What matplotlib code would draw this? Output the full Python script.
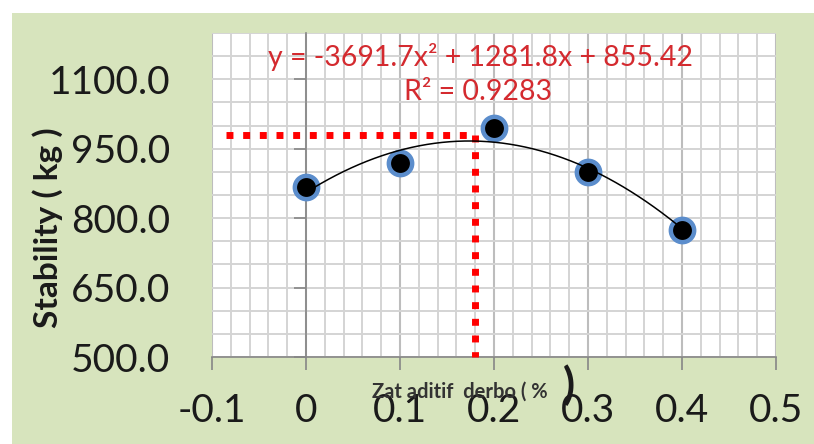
import numpy as np
import matplotlib
matplotlib.use("Agg")
import matplotlib.pyplot as plt
from matplotlib.patches import Rectangle

plt.rcParams['font.family'] = ['Lato', 'DejaVu Sans']

# data
additive = [0.0, 0.1, 0.2, 0.3, 0.4]
stability = [867, 919, 995, 900, 774]
trend_coef = [-3691.7, 1281.8, 855.42]   # y = a x^2 + b x + c
r_squared = 0.9283
opt_x = 0.18
opt_y = 980
guide_start_x = -0.085

x_ticks = [-0.1, 0, 0.1, 0.2, 0.3, 0.4, 0.5]
x_tick_labels = ['-0.1', '0', '0.1', '0.2', '0.3', '0.4', '0.5']
y_ticks = [500, 650, 800, 950, 1100]

GREEN = '#d7e4bd'
RED_TXT = '#d42a2f'
AXIS_GRAY = '#868686'
W, H = 814, 444


def fx(px):
    return px / W


def fy(px):
    # pixel row from the top -> figure fraction
    return 1 - px / H


fig = plt.figure(figsize=(8.14, 4.44), dpi=100)
fig.patch.set_facecolor('white')
fig.patches.append(Rectangle((fx(12), 0), 1 - fx(12), fy(13),
                             transform=fig.transFigure, facecolor=GREEN,
                             edgecolor='none', zorder=-10))

ax = fig.add_axes([fx(212), fy(357), fx(564), 324 / H])
ax.set_facecolor('white')
ax.set_xlim(-0.1, 0.5)
ax.set_ylim(500, 1200)

# grid
ax.set_xticks(x_ticks)
ax.set_xticks(np.arange(-0.1, 0.5001, 0.02), minor=True)
ax.set_yticks(y_ticks)
ax.set_yticks(np.arange(500, 1200.1, 50), minor=True)
ax.grid(which='minor', color='#d4d4d4', linewidth=1.4)
ax.grid(which='major', axis='x', color='#bdbdbd', linewidth=1.5)
ax.grid(which='major', axis='y', color='#d4d4d4', linewidth=1.4)
ax.set_axisbelow(True)

for s in ['top', 'right']:
    ax.spines[s].set_visible(False)
ax.spines['left'].set_position(('data', 0))
ax.spines['left'].set_color(AXIS_GRAY)
ax.spines['left'].set_linewidth(1.2)
ax.spines['bottom'].set_color(AXIS_GRAY)
ax.spines['bottom'].set_linewidth(1.2)

ax.tick_params(axis='both', which='minor', length=0)
ax.tick_params(axis='y', which='major', direction='out', length=9,
               color=AXIS_GRAY, width=1.2, labelleft=False)
ax.tick_params(axis='x', which='major', direction='out', length=9,
               color=AXIS_GRAY, width=1.2, labelsize=28, pad=17,
               labelcolor='#1a1a1a')
ax.set_xticklabels(x_tick_labels)

sec = ax.secondary_yaxis(0.0)
sec.spines['left'].set_visible(False)
sec.set_yticks(y_ticks)
sec.set_yticklabels([f'{v:.1f}' for v in y_ticks])
sec.tick_params(length=0, pad=30, labelsize=28, labelcolor='#1a1a1a')

# red guide lines
ax.plot([guide_start_x, opt_x], [opt_y, opt_y], color='#ff0000', lw=5,
        dashes=(1, 1.4), dash_capstyle='butt', zorder=3)
ax.plot([opt_x, opt_x], [opt_y, 500], color='#ff0000', lw=5,
        dashes=(1, 1.4), dash_capstyle='butt', zorder=3, clip_on=False)

ax.plot(additive, stability, 'o', color='black', markersize=16.8,
        markeredgecolor='#5b8dcc', markeredgewidth=3.2, zorder=5)

# trendline, drawn over the markers like in excel
xs = np.linspace(additive[0], additive[-1], 200)
ax.plot(xs, np.polyval(trend_coef, xs), color='black', lw=1.1, zorder=6)

a, b, c = trend_coef
fig.text(fx(480), fy(57), f'y = {a}x² + {b}x + {c}',
         ha='center', va='center', fontsize=20.5, color=RED_TXT)
fig.text(fx(478), fy(92), f'R² = {r_squared}',
         ha='center', va='center', fontsize=20.5, color=RED_TXT)

fig.text(fx(48), fy(228), 'Stability ( kg )', rotation=90,
         ha='center', va='center', fontsize=24, fontweight='bold',
         color='#1a1a1a')
fig.text(fx(372), fy(392), 'Zat aditif  derbo ( %', ha='left',
         va='center', fontsize=14.5, fontweight='bold', color='#333333')
fig.text(fx(569), fy(385), ')', ha='center', va='center',
         fontsize=32, fontweight='bold', color='#1a1a1a')

fig.savefig('out.png', dpi=100, facecolor=fig.get_facecolor())
